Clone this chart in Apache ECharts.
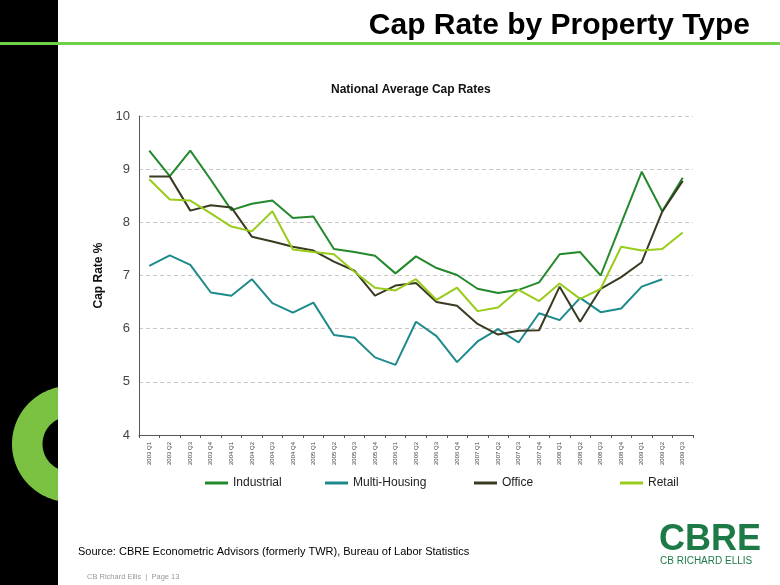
<!DOCTYPE html>
<html><head><meta charset="utf-8">
<script src="https://cdn.jsdelivr.net/npm/echarts@6/dist/echarts.min.js"></script>
<style>html,body{margin:0;padding:0;background:#fff}#c{width:780px;height:585px}</style>
</head><body><div id="c"></div>
<script>
const categories = ["2003 Q1","2003 Q2","2003 Q3","2003 Q4","2004 Q1","2004 Q2","2004 Q3","2004 Q4","2005 Q1","2005 Q2","2005 Q3","2005 Q4","2006 Q1","2006 Q2","2006 Q3","2006 Q4","2007 Q1","2007 Q2","2007 Q3","2007 Q4","2008 Q1","2008 Q2","2008 Q3","2008 Q4","2009 Q1","2009 Q2","2009 Q3"];
const industrial = [9.35,8.87,9.35,8.80,8.23,8.35,8.41,8.08,8.11,7.50,7.44,7.37,7.04,7.36,7.14,7.01,6.75,6.67,6.73,6.87,7.40,7.44,7.00,7.98,8.95,8.21,8.84];
const multiHousing = [7.18,7.38,7.20,6.68,6.62,6.93,6.48,6.30,6.49,5.88,5.83,5.46,5.32,6.13,5.86,5.37,5.76,5.99,5.74,6.29,6.16,6.58,6.31,6.38,6.79,6.93,null];
const office = [8.86,8.86,8.22,8.32,8.28,7.73,7.64,7.54,7.47,7.26,7.09,6.62,6.81,6.86,6.50,6.43,6.09,5.89,5.96,5.97,6.79,6.13,6.75,6.97,7.25,8.20,8.78];
const retail = [8.81,8.43,8.41,8.17,7.92,7.83,8.21,7.49,7.44,7.40,7.07,6.77,6.72,6.93,6.54,6.77,6.33,6.40,6.73,6.52,6.85,6.56,6.75,7.54,7.47,7.50,7.81];
const seriesNames = ["Industrial","Multi-Housing","Office","Retail"];
const yTicks = [4,5,6,7,8,9,10];

const colors = ["#23892b","#1e8a8c","#3a3a22","#99cc1a"];
const F = "'Liberation Sans', Arial, sans-serif";

// ring decoration polygon (clipped at strip edge)
function ringPoly(cx, cy, R, r, clipX) {
  const pts = [];
  const aO = Math.acos((clipX - cx) / R), aI = Math.acos((clipX - cx) / r);
  const n = 60;
  for (let i = 0; i <= n; i++) { const a = aO + (2*Math.PI - 2*aO) * i / n; pts.push([cx + R*Math.cos(a), cy + R*Math.sin(a)]); }
  for (let i = 0; i <= n; i++) { const a = (2*Math.PI - aI) - (2*Math.PI - 2*aI) * i / n; pts.push([cx + r*Math.cos(a), cy + r*Math.sin(a)]); }
  return pts;
}

const chart = echarts.init(document.getElementById('c'), null, {renderer:'canvas'});
const legendLefts = [205, 325, 474, 620];
chart.setOption({
  animation: false,
  backgroundColor: '#fff',
  textStyle: {fontFamily: F},
  grid: {left: 139, right: 87, top: 116, bottom: 150},
  legend: seriesNames.map((n, i) => ({
    data: [n], left: legendLefts[i], top: 477, padding: 0, icon: 'rect', itemWidth: 23, itemHeight: 3,
    itemGap: 4, textStyle: {fontSize: 12, color: '#222', fontFamily: F}
  })),
  xAxis: {
    type: 'category', data: categories, boundaryGap: true,
    axisLine: {lineStyle: {color: '#555', width: 1}},
    axisTick: {show: true, length: 3, lineStyle: {color: '#555'}},
    axisLabel: {rotate: 90, fontSize: 6, color: '#444', margin: 7, interval: 0}
  },
  yAxis: {
    type: 'value', min: 4, max: 10, interval: 1,
    name: 'Cap Rate %', nameLocation: 'middle', nameGap: 33,
    nameTextStyle: {fontSize: 12, fontWeight: 'bold', color: '#111', fontFamily: F},
    axisLine: {show: true, lineStyle: {color: '#555'}},
    axisTick: {show: false},
    axisLabel: {fontSize: 13, color: '#444', margin: 9, formatter: v => yTicks.includes(v) ? String(v) : ''},
    splitLine: {lineStyle: {color: '#c8c8c8', type: [4,3], width: 1}}
  },
  series: [industrial, multiHousing, office, retail].map((d, i) => ({
    name: seriesNames[i], type: 'line', data: d, symbol: 'none', showSymbol: false,
    lineStyle: {color: colors[i], width: 2}, itemStyle: {color: colors[i]}, connectNulls: false
  })),
  graphic: [
    {type: 'rect', shape: {x: 0, y: 0, width: 58, height: 585}, style: {fill: '#000'}, z: -10, silent: true},
    {type: 'polygon', shape: {points: ringPoly(70, 444, 58, 27.5, 58)}, style: {fill: '#7cc242'}, z: -9, silent: true},
    {type: 'rect', shape: {x: 0, y: 42, width: 780, height: 3}, style: {fill: '#6fd14a'}, z: -8, silent: true},
    {type: 'text', right: 30, top: 11, style: {text: 'Cap Rate by Property Type', font: "bold 30px " + F, fill: '#000'}},
    {type: 'text', left: 331, top: 84, style: {text: 'National Average Cap Rates', font: "bold 12px " + F, fill: '#111'}},
    {type: 'text', left: 78, top: 546, style: {text: 'Source: CBRE Econometric Advisors (formerly TWR), Bureau of Labor Statistics', font: "11px " + F, fill: '#000'}},
    {type: 'text', left: 87, top: 573, style: {text: 'CB Richard Ellis  |  Page 13', font: "7.5px " + F, fill: '#999'}},
    {type: 'text', left: 659, top: 522, style: {text: 'CBRE', font: "bold 36px " + F, fill: '#1d7a47'}},
    {type: 'text', left: 660, top: 556, style: {text: 'CB RICHARD ELLIS', font: "10px " + F, fill: '#1d7a47'}}
  ]
});
</script></body></html>
